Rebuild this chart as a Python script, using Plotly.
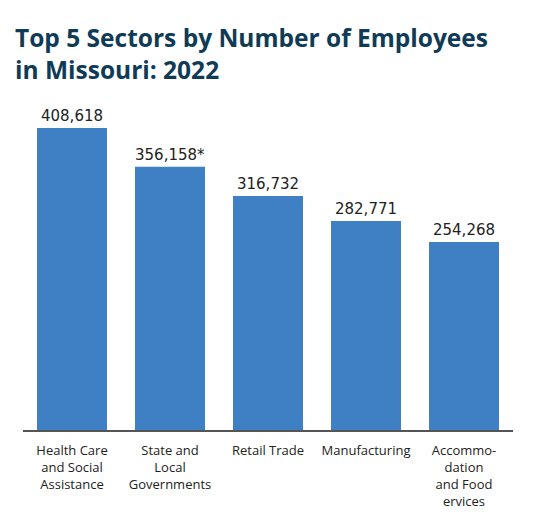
import plotly.graph_objects as go

sectors = ['Health Care<br>and Social<br>Assistance', 'State and<br>Local<br>Governments',
           'Retail Trade', 'Manufacturing', 'Accommo-<br>dation<br>and Food<br>ervices']
employees = [408618, 356158, 316732, 282771, 254268]
labels = ['408,618', '356,158*', '316,732', '282,771', '254,268']

fig = go.Figure()
fig.add_trace(go.Bar(x=sectors, y=employees, text=labels, textposition='outside',
                     cliponaxis=False,
                     marker=dict(color='#3f7fc3', line=dict(width=0)),
                     textfont=dict(family='DejaVu Sans', size=15, color='#222222')))

# page body adds an 8px offset, so margins are shifted to compensate
fig.update_layout(
    width=546, height=522,
    margin=dict(l=15, r=41, t=92, b=100),
    plot_bgcolor='white', paper_bgcolor='white',
    bargap=0.286, showlegend=False,
    font=dict(family='Open Sans', size=13, color='#222222'),
    xaxis=dict(showline=True, linecolor='#555555', linewidth=1.5, ticks='',
               tickfont=dict(size=13), ticklabelstandoff=8, automargin=False),
    yaxis=dict(range=[0, 446500], visible=False, showgrid=False, automargin=False),
)
fig.add_annotation(text='Top 5 Sectors by Number of Employees<br>in Missouri: 2022',
                   xref='paper', yref='paper', x=-0.021, y=1.244, xanchor='left', yanchor='top',
                   align='left', showarrow=False,
                   font=dict(family='Open Sans', size=24.5, color='#0f3b57', weight='bold'))

fig.write_html('out.html')
